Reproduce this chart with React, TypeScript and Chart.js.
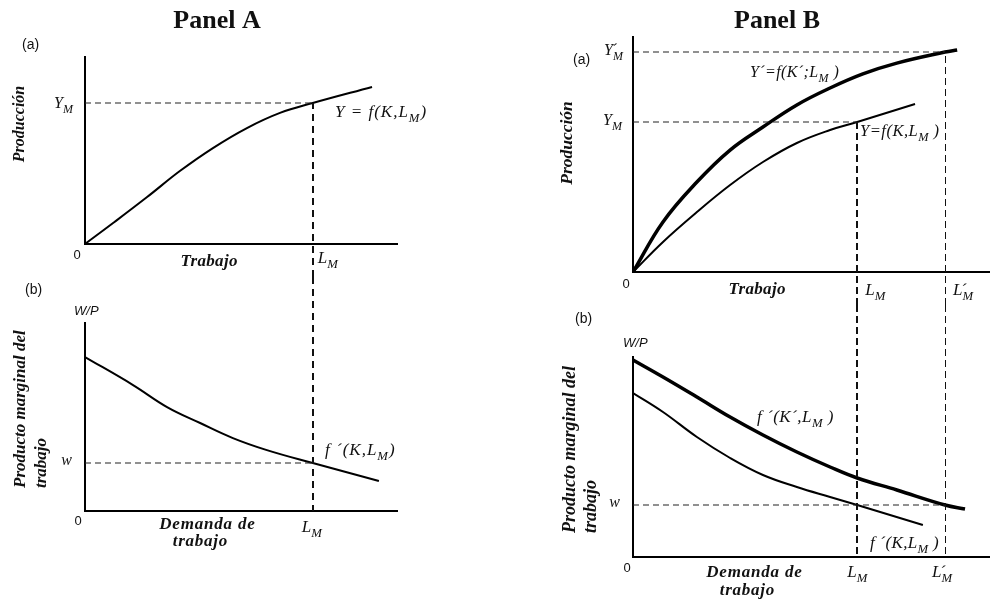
import React, { useEffect, useRef } from 'react';
import { Chart, registerables } from 'chart.js';

Chart.register(...registerables);

// ---------------- DATA ----------------
// Panel A (a): production function
const laborA = [0, 0.9, 1.99, 3.04, 4.1, 5.19, 6.25, 7.3, 9.2];
const outputA = [0, 1.12, 2.51, 3.9, 5.13, 6.2, 7.01, 7.54, 8.4];
// Panel A (b): marginal product of labour
const mplLaborA = [0, 1.54, 2.63, 3.69, 4.74, 5.83, 7.3, 9.42];
const mplA = [8.19, 6.7, 5.53, 4.68, 3.88, 3.24, 2.55, 1.6];
const LM_A = 7.3;
const YM_A = 7.54;
const W_A = 2.55;

// Panel B (a): new (thick) and old (thin) production functions
const laborBnew = [0, 0.84, 1.79, 2.72, 3.64, 4.59, 5.52, 6.44, 7.39, 8.74, 9.08];
const outputBnew = [0, 2.13, 3.83, 5.19, 6.17, 7.11, 7.83, 8.43, 8.89, 9.36, 9.45];
const laborBold = [0, 0.84, 1.79, 2.72, 3.64, 4.59, 5.52, 6.28, 7.9];
const outputBold = [0, 1.28, 2.55, 3.7, 4.68, 5.49, 6.04, 6.38, 7.15];
// Panel B (b): marginal products
const mplLaborBnew = [0, 0.84, 1.79, 2.72, 3.64, 4.59, 5.52, 6.28, 7.39, 8.74, 9.3];
const mplBnew = [9.85, 9.0, 8.0, 7.0, 6.1, 5.25, 4.5, 3.95, 3.35, 2.6, 2.4];
const mplLaborBold = [0, 0.84, 1.79, 2.72, 3.64, 4.59, 5.52, 6.28, 8.12];
const mplBold = [8.2, 7.25, 6.0, 4.95, 4.1, 3.5, 3.0, 2.6, 1.6];
const LM_B = 6.28;
const LMp_B = 8.74;
const YM_B = 6.38;
const YMp_B = 9.36;
const W_B = 2.6;

// ---------------- DRAW HELPERS ----------------
const SERIF = '"Liberation Serif", "Times New Roman", Times, serif';
const SANS = '"Liberation Sans", Arial, Helvetica, sans-serif';
const INK = '#111';

type Seg = { t: string; s?: number; dy?: number; dx?: number; adv?: boolean };
const SUB = (t: string): Seg => ({ t, s: 0.75, dy: 0.3 });
const PRIME: Seg = { t: '´', dx: -0.1, dy: 0.02, adv: false };

const fnt = (style: string, size: number, family: string) => `${style} ${size}px ${family}`;

function drawRich(
  ctx: CanvasRenderingContext2D,
  segs: Seg[],
  x: number,
  y: number,
  size: number,
  align: 'left' | 'center' | 'right' = 'left',
  style = 'italic',
  family = SERIF,
  spacing = 0
) {
  ctx.save();
  ctx.fillStyle = INK;
  ctx.textBaseline = 'alphabetic';
  ctx.textAlign = 'left';
  (ctx as any).letterSpacing = `${spacing}px`;
  let total = 0;
  for (const g of segs) {
    ctx.font = fnt(style, size * (g.s ?? 1), family);
    if (g.adv !== false) total += ctx.measureText(g.t).width;
  }
  total -= spacing;
  let cx = align === 'left' ? x : align === 'center' ? x - total / 2 : x - total;
  for (const g of segs) {
    ctx.font = fnt(style, size * (g.s ?? 1), family);
    ctx.fillText(g.t, cx + (g.dx ?? 0) * size, y + (g.dy ?? 0) * size);
    if (g.adv !== false) cx += ctx.measureText(g.t).width;
  }
  ctx.restore();
}

function drawRotated(
  ctx: CanvasRenderingContext2D,
  text: string,
  x: number,
  y: number,
  size: number,
  align: CanvasTextAlign
) {
  ctx.save();
  ctx.translate(x, y);
  ctx.rotate(-Math.PI / 2);
  ctx.font = fnt('bold italic', size, SERIF);
  ctx.fillStyle = INK;
  ctx.textAlign = align;
  ctx.textBaseline = 'alphabetic';
  ctx.fillText(text, 0, 0);
  ctx.restore();
}

function vDash(ctx: CanvasRenderingContext2D, x: number, y0: number, y1: number, width: number, dash: number[]) {
  ctx.save();
  ctx.strokeStyle = INK;
  ctx.lineWidth = width;
  ctx.setLineDash(dash);
  const px = width % 2 === 1 ? Math.round(x) + 0.5 : Math.round(x);
  ctx.beginPath();
  ctx.moveTo(px, y0);
  ctx.lineTo(px, y1);
  ctx.stroke();
  ctx.restore();
}

const pts = (xs: number[], ys: number[]) => xs.map((x, i) => ({ x, y: ys[i] }));
const curve = (xs: number[], ys: number[], w: number) => ({
  data: pts(xs, ys),
  borderColor: '#000',
  borderWidth: w,
  pointRadius: 0,
  tension: 0.4,
  fill: false,
});
const guide = (x0: number, x1: number, y: number) => ({
  data: [
    { x: x0, y },
    { x: x1, y },
  ],
  borderColor: '#222',
  borderWidth: 1.1,
  borderDash: [6, 4],
  pointRadius: 0,
  fill: false,
});

type Ctx = { X: (v: number) => number; Y: (v: number) => number; T: number; B: number };
type Spec = {
  left: number;
  top: number;
  width: number;
  height: number;
  padding: { left: number; top: number; right: number; bottom: number };
  datasets: any[];
  draw: (ctx: CanvasRenderingContext2D, h: Ctx) => void;
};

const sans = (ctx: CanvasRenderingContext2D, t: string, x: number, y: number, align: 'left' | 'center' = 'left', style = 'normal', size = 13) =>
  drawRich(ctx, [{ t }], x, y, size, align, style, SANS);

// ---------------- SPECS ----------------
const SPECS: Spec[] = [
  {
    left: 0,
    top: 0,
    width: 495,
    height: 277,
    padding: { left: 85, top: 57, right: 98, bottom: 33 },
    datasets: [guide(0, LM_A, YM_A), curve(laborA, outputA, 2)],
    draw: (ctx, { X, Y, B }) => {
      drawRich(ctx, [{ t: 'Panel A' }], 217, 28, 26, 'center', 'bold');
      sans(ctx, '(a)', 22, 49, 'left', 'normal', 14);
      drawRotated(ctx, 'Producción', 24, 124, 16, 'center');
      sans(ctx, '0', X(0) - 8, Y(0) + 15, 'center');
      drawRich(ctx, [{ t: 'Trabajo' }], 209, 266, 17, 'center', 'bold italic', SERIF, 0.3);
      drawRich(ctx, [{ t: 'L' }, SUB('M')], X(LM_A) + 5, Y(0) + 19, 17);
      drawRich(ctx, [{ t: 'Y' }, SUB('M')], X(0) - 12, Y(YM_A) + 5, 16, 'right');
      drawRich(ctx, [{ t: 'Y = f(K,L' }, SUB('M'), { t: ')' }], 335, 117, 17, 'left', 'italic', SERIF, 1);
      vDash(ctx, X(LM_A), B, Y(YM_A), 2, [7, 5]);
    },
  },
  {
    left: 0,
    top: 277,
    width: 495,
    height: 325,
    padding: { left: 85, top: 46, right: 98, bottom: 91 },
    datasets: [guide(0, LM_A, W_A), curve(mplLaborA, mplA, 2)],
    draw: (ctx, { X, Y, T }) => {
      sans(ctx, '(b)', 25, 294, 'left', 'normal', 14);
      sans(ctx, 'W/P', 74, 315, 'left', 'italic');
      drawRotated(ctx, 'Producto marginal del', 25, 488, 17, 'left');
      drawRotated(ctx, 'trabajo', 46, 488, 17, 'left');
      drawRich(ctx, [{ t: 'w' }], X(0) - 13, Y(W_A) + 2, 16, 'right');
      sans(ctx, '0', X(0) - 7, Y(0) + 14, 'center');
      drawRich(ctx, [{ t: 'Demanda de' }], 207, 529, 17, 'center', 'bold italic', SERIF, 0.8);
      drawRich(ctx, [{ t: 'trabajo' }], 200, 546, 17, 'center', 'bold italic', SERIF, 0.7);
      drawRich(ctx, [{ t: 'L' }, SUB('M')], X(LM_A) - 11, Y(0) + 21, 17);
      drawRich(ctx, [{ t: 'f ´(K,L' }, SUB('M'), { t: ')' }], 325, 455, 17, 'left', 'italic', SERIF, 1);
      vDash(ctx, X(LM_A), T, Y(0), 2, [7, 5]);
    },
  },
  {
    left: 495,
    top: 0,
    width: 495,
    height: 305,
    padding: { left: 138, top: 37, right: 0, bottom: 33 },
    datasets: [
      guide(0, LMp_B, YMp_B),
      guide(0, LM_B, YM_B),
      curve(laborBnew, outputBnew, 3.5),
      curve(laborBold, outputBold, 2),
    ],
    draw: (ctx, { X, Y, B }) => {
      drawRich(ctx, [{ t: 'Panel B' }], 777, 28, 26, 'center', 'bold');
      sans(ctx, '(a)', 573, 64, 'left', 'normal', 14);
      drawRich(ctx, [{ t: 'Y' }, PRIME, SUB('M')], X(0) - 10, Y(YMp_B) + 3, 16, 'right');
      drawRich(ctx, [{ t: 'Y' }, SUB('M')], X(0) - 11, Y(YM_B) + 3, 16, 'right');
      drawRotated(ctx, 'Producción', 572, 143, 17.5, 'center');
      sans(ctx, '0', X(0) - 7, Y(0) + 16, 'center');
      drawRich(ctx, [{ t: 'Trabajo' }], 757, 294, 17, 'center', 'bold italic', SERIF, 0.3);
      drawRich(ctx, [{ t: 'L' }, SUB('M')], X(LM_B) + 8, Y(0) + 23, 17);
      drawRich(ctx, [{ t: 'L' }, PRIME, SUB('M')], X(LMp_B) + 8, Y(0) + 23, 17);
      drawRich(ctx, [{ t: 'Y´=f(K´;L' }, SUB('M'), { t: ' )' }], 750, 77, 16, 'left', 'italic', SERIF, 0.4);
      drawRich(ctx, [{ t: 'Y=f(K,L' }, SUB('M'), { t: ' )' }], 860, 136, 16.5, 'left', 'italic', SERIF, 0.5);
      vDash(ctx, X(LM_B), B, Y(YM_B), 2, [7, 4]);
      vDash(ctx, X(LMp_B), B, Y(YMp_B), 1, [7, 4]);
    },
  },
  {
    left: 495,
    top: 305,
    width: 495,
    height: 297,
    padding: { left: 138, top: 52, right: 0, bottom: 45 },
    datasets: [
      guide(0, LMp_B, W_B),
      curve(mplLaborBnew, mplBnew, 3.5),
      curve(mplLaborBold, mplBold, 2),
    ],
    draw: (ctx, { X, Y, T }) => {
      sans(ctx, '(b)', 575, 323, 'left', 'normal', 14);
      sans(ctx, 'W/P', 623, 347, 'left', 'italic');
      drawRotated(ctx, 'Producto marginal del', 575, 533, 18, 'left');
      drawRotated(ctx, 'trabajo', 596, 533, 18, 'left');
      drawRich(ctx, [{ t: 'w' }], X(0) - 13, Y(W_B) + 2, 16, 'right');
      sans(ctx, '0', X(0) - 6, Y(0) + 15, 'center');
      drawRich(ctx, [{ t: 'Demanda de' }], 754, 577, 17, 'center', 'bold italic', SERIF, 0.8);
      drawRich(ctx, [{ t: 'trabajo' }], 747, 595, 17, 'center', 'bold italic', SERIF, 0.7);
      drawRich(ctx, [{ t: 'L' }, SUB('M')], X(LM_B) - 10, Y(0) + 20, 17);
      drawRich(ctx, [{ t: 'L' }, PRIME, SUB('M')], X(LMp_B) - 13, Y(0) + 20, 17);
      drawRich(ctx, [{ t: 'f ´(K´,L' }, SUB('M'), { t: ' )' }], 757, 422, 17, 'left', 'italic', SERIF, 0.5);
      drawRich(ctx, [{ t: 'f ´(K,L' }, SUB('M'), { t: ' )' }], 870, 548, 17, 'left', 'italic', SERIF, 0.3);
      vDash(ctx, X(LM_B), T, Y(0), 2, [7, 4]);
      vDash(ctx, X(LMp_B), T, Y(0), 1, [7, 4]);
    },
  },
];

// ---------------- COMPONENTS ----------------
const axisOpts = {
  type: 'linear' as const,
  min: 0,
  max: 10,
  ticks: { display: false },
  grid: { display: false, drawTicks: false, drawOnChartArea: false },
  border: { display: true, color: '#000', width: 2 },
  title: { display: false },
};

function PanelChart({ spec }: { spec: Spec }) {
  const ref = useRef<HTMLCanvasElement>(null);
  useEffect(() => {
    const chart = new Chart(ref.current as HTMLCanvasElement, {
      type: 'line',
      data: { datasets: spec.datasets },
      options: {
        responsive: false,
        maintainAspectRatio: false,
        animation: false,
        events: [],
        layout: { padding: spec.padding },
        plugins: { legend: { display: false }, tooltip: { enabled: false }, title: { display: false } },
        scales: { x: { ...axisOpts }, y: { ...axisOpts } },
      } as any,
      plugins: [
        {
          id: 'annot',
          afterDraw(c: any) {
            const ctx = c.ctx as CanvasRenderingContext2D;
            const xs = c.scales.x;
            const ys = c.scales.y;
            ctx.save();
            ctx.translate(-spec.left, -spec.top);
            spec.draw(ctx, {
              X: (v) => xs.getPixelForValue(v) + spec.left,
              Y: (v) => ys.getPixelForValue(v) + spec.top,
              T: spec.top,
              B: spec.top + spec.height,
            });
            ctx.restore();
          },
        },
      ],
    });
    return () => chart.destroy();
  }, []);
  return (
    <canvas
      ref={ref}
      width={spec.width}
      height={spec.height}
      style={{ position: 'absolute', left: spec.left, top: spec.top, width: spec.width, height: spec.height, display: 'block' }}
    />
  );
}

export default function App() {
  return (
    <div style={{ position: 'absolute', left: 0, top: 0, width: 990, height: 602, background: '#fff', overflow: 'hidden' }}>
      {SPECS.map((s, i) => (
        <PanelChart key={i} spec={s} />
      ))}
    </div>
  );
}
